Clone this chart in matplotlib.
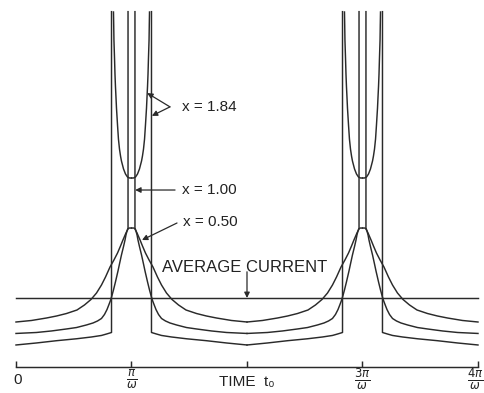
import numpy as np
import matplotlib
matplotlib.use('Agg')
import matplotlib.pyplot as plt

plt.rcParams['font.family'] = ['Liberation Sans', 'DejaVu Sans']
plt.rcParams['mathtext.fontset'] = 'dejavusans'

# time axis in units of pi/omega, current in units of the average current
tick_pos = [0, 1, 2, 3, 4]
tick_labels = ['0', r'$\frac{\pi}{\omega}$', 'TIME  t₀', r'$\frac{3\pi}{\omega}$', r'$\frac{4\pi}{\omega}$']
peaks = [1, 3]
avg_current = 1.0

# half-period profiles: offset from the peak -> current
x050_off = [0, 0.022, 0.030, 0.039, 0.048, 0.061, 0.074, 0.095, 0.121, 0.152, 0.186,
            0.225, 0.260, 0.303, 0.351, 0.407, 0.472, 0.563, 0.649, 0.736, 0.866, 1.0]
x050_val = [2.014, 2.014, 2.0, 1.971, 1.942, 1.891, 1.841, 1.754, 1.652, 1.551, 1.449,
            1.304, 1.188, 1.072, 0.978, 0.899, 0.826, 0.775, 0.739, 0.710, 0.674, 0.652]

x100_off = [0.030, 0.030, 0.039, 0.048, 0.056, 0.069, 0.087, 0.104, 0.117, 0.139, 0.156,
            0.169, 0.182, 0.195, 0.212, 0.234, 0.260, 0.294, 0.333, 0.390, 0.476, 0.563,
            0.693, 0.823, 1.0]
x100_val = [5.15, 2.014, 1.971, 1.913, 1.841, 1.746, 1.623, 1.493, 1.391, 1.232, 1.116,
            1.036, 0.964, 0.906, 0.833, 0.761, 0.703, 0.667, 0.638, 0.609, 0.572, 0.551,
            0.522, 0.500, 0.486]

# x = 1.84: outer branch (runs up the asymptote) and the inner U
x184_off = [0.173, 0.173, 0.216, 0.260, 0.346, 0.476, 0.649, 0.823, 1.0]
x184_val = [5.15, 0.500, 0.478, 0.457, 0.435, 0.409, 0.381, 0.348, 0.319]
x184u_off = [0, 0.017, 0.035, 0.052, 0.069, 0.087, 0.095, 0.104, 0.113, 0.121, 0.130,
             0.134, 0.139, 0.143, 0.147, 0.152, 0.154, 0.156]
x184u_val = [2.739, 2.739, 2.754, 2.797, 2.870, 2.986, 3.058, 3.159, 3.304, 3.507, 3.754,
             3.899, 4.072, 4.246, 4.478, 4.739, 4.957, 5.145]

ink = '#2a2a2a'
lw = 1.05

fig = plt.figure(figsize=(4.84, 3.93), dpi=100)
ax = fig.add_axes([0, 0, 1, 1])
ax.set_xlim(-0.1385, 4.052)
ax.set_ylim(-0.377, 5.319)

for p in peaks:
    for sgn in (-1, 1):
        for off, val in [(x050_off, x050_val), (x100_off, x100_val),
                         (x184_off, x184_val), (x184u_off, x184u_val)]:
            ax.plot(p + sgn * np.array(off), val, color=ink, lw=lw,
                    solid_joinstyle='round')

# average current
ax.plot([tick_pos[0], tick_pos[-1]], [avg_current, avg_current], color=ink, lw=lw)

# time axis
for s in ['left', 'right', 'top']:
    ax.spines[s].set_visible(False)
ax.spines['bottom'].set_position(('data', 0))
ax.spines['bottom'].set_bounds(0, 4)
ax.spines['bottom'].set_color(ink)
ax.spines['bottom'].set_linewidth(lw)
ax.set_yticks([])
ax.set_xticks(tick_pos)
ax.set_xticklabels([])
ax.tick_params(axis='x', direction='in', length=4, width=lw, color=ink)

label_y = [-0.19, -0.175, -0.22, -0.175, -0.175]
label_size = [11, 12, 11, 12, 12]
label_nudge = [1, 0, 0, 0, -2]   # points; last one kept inside the frame
for x, lab, y, fs, dx in zip(tick_pos, tick_labels, label_y, label_size, label_nudge):
    ax.annotate(lab, xy=(x, y), xytext=(dx, 0), textcoords='offset points',
                ha='center', va='center', fontsize=fs, color='#222222')

# labels with arrows
arw = dict(arrowstyle='-|>', color=ink, lw=0.9, shrinkA=0, shrinkB=0, mutation_scale=8)
txt = dict(fontsize=11, color='#222222', va='center', ha='left')

ax.text(1.437, 3.77, 'x = 1.84', **txt)
ax.annotate('', xy=(1.136, 3.97), xytext=(1.333, 3.77), arrowprops=arw)
ax.annotate('', xy=(1.176, 3.64), xytext=(1.333, 3.77), arrowprops=arw)

ax.text(1.437, 2.565, 'x = 1.00', **txt)
ax.annotate('', xy=(1.032, 2.565), xytext=(1.377, 2.565), arrowprops=arw)

ax.text(1.446, 2.10, 'x = 0.50', **txt)
ax.annotate('', xy=(1.091, 1.84), xytext=(1.394, 2.087), arrowprops=arw)

ax.text(1.264, 1.449, 'AVERAGE CURRENT', fontsize=12, color='#222222', va='center', ha='left')
ax.annotate('', xy=(2.0, avg_current), xytext=(2.0, 1.38), arrowprops=arw)

fig.savefig('out.png', dpi=100)
